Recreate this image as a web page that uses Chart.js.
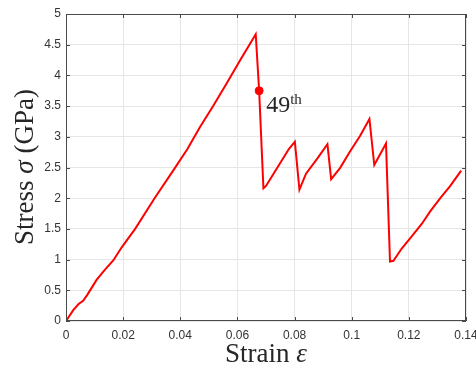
<!DOCTYPE html>
<html>
<head>
<meta charset="utf-8">
<script src="https://cdn.jsdelivr.net/npm/chart.js@4.4.0/dist/chart.umd.min.js"></script>
<style>
  html, body { margin: 0; padding: 0; background: #fff; }
</style>
</head>
<body>
<canvas id="stress-strain" width="476" height="369"></canvas>
<script>
// values
const strain = [0, 0.0026, 0.0045, 0.006, 0.0075, 0.0107, 0.0135, 0.0166, 0.0195, 0.0242,
  0.031, 0.0375, 0.0425, 0.0469, 0.0515, 0.056, 0.061, 0.0664, 0.0676, 0.0691,
  0.070, 0.074, 0.078, 0.0801, 0.0817, 0.084, 0.088, 0.0915, 0.0928, 0.0959,
  0.0994, 0.103, 0.1062, 0.1079, 0.112, 0.1134, 0.1146, 0.1175, 0.121, 0.1245,
  0.1274, 0.131, 0.1345, 0.1383]
const stress = [0, 0.18, 0.28, 0.33, 0.43, 0.67, 0.83, 0.99, 1.20, 1.50,
  2.00, 2.45, 2.80, 3.16, 3.50, 3.85, 4.25, 4.67, 3.75, 2.16,
  2.20, 2.50, 2.80, 2.92, 2.14, 2.40, 2.65, 2.88, 2.31, 2.49,
  2.76, 3.02, 3.29, 2.54, 2.89, 0.97, 0.98, 1.18, 1.38, 1.58,
  1.78, 2.00, 2.20, 2.45]

// the marked 49th point
const markStrain = [0.0676]
const markStress = [3.75]

const xTicks = [0, 0.02, 0.04, 0.06, 0.08, 0.1, 0.12, 0.14]
const yTicks = [0, 0.5, 1, 1.5, 2, 2.5, 3, 3.5, 4, 4.5, 5]

const axisColor = '#4a4a4a'
const serif = "'Liberation Serif', 'DejaVu Serif', serif"
const titleSize = '27px '

// MATLAB-like box with inward ticks, axis titles and the 49th label
const boxPlugin = {
  id: 'box',
  afterDraw(chart) {
    const { ctx, chartArea: a, scales: { x, y } } = chart
    ctx.save()
    ctx.strokeStyle = axisColor
    ctx.lineWidth = 1
    ctx.strokeRect(Math.round(a.left) + 0.5, Math.round(a.top) + 0.5,
      Math.round(a.width) - 1, Math.round(a.height) - 1)
    ctx.beginPath()
    xTicks.forEach(v => {
      const px = Math.round(x.getPixelForValue(v)) + 0.5
      ctx.moveTo(px, a.bottom); ctx.lineTo(px, a.bottom - 4)
      ctx.moveTo(px, a.top); ctx.lineTo(px, a.top + 4)
    })
    yTicks.forEach(v => {
      const py = Math.round(y.getPixelForValue(v)) + 0.5
      ctx.moveTo(a.left, py); ctx.lineTo(a.left + 4, py)
      ctx.moveTo(a.right, py); ctx.lineTo(a.right - 4, py)
    })
    ctx.stroke()

    ctx.fillStyle = '#262626'
    ctx.textBaseline = 'alphabetic'

    // x title
    const xa = 'Strain ', xb = 'ε'
    ctx.font = titleSize + serif
    const wa = ctx.measureText(xa).width
    ctx.font = 'italic ' + titleSize + serif
    const wb = ctx.measureText(xb).width
    let sx = (a.left + a.right) / 2 - (wa + wb) / 2
    ctx.font = titleSize + serif
    ctx.fillText(xa, sx, 362)
    ctx.font = 'italic ' + titleSize + serif
    ctx.fillText(xb, sx + wa, 362)

    // y title
    const parts = [['Stress ', ''], ['σ', 'italic '], [' (GPa)', '']]
    let total = 0
    parts.forEach(p => { ctx.font = p[1] + titleSize + serif; total += ctx.measureText(p[0]).width })
    ctx.save()
    ctx.translate(33, 167)
    ctx.rotate(-Math.PI / 2)
    let cx = -total / 2
    parts.forEach(p => {
      ctx.font = p[1] + titleSize + serif
      ctx.fillText(p[0], cx, 0)
      cx += ctx.measureText(p[0]).width
    })
    ctx.restore()

    // 49th label
    const mx = x.getPixelForValue(markStrain[0]) + 7
    const my = y.getPixelForValue(markStress[0]) + 21
    ctx.font = '24px ' + serif
    ctx.fillText('49', mx, my)
    const w49 = ctx.measureText('49').width
    ctx.font = '15px ' + serif
    ctx.fillText('th', mx + w49, my - 8)
    ctx.restore()
  }
}

const stressStrainConfig = {
  type: 'scatter',
  data: {
    datasets: [
      {
        data: strain.map((s, i) => ({ x: s, y: stress[i] })),
        showLine: true,
        borderColor: '#ff0000',
        borderWidth: 2,
        pointRadius: 0,
        tension: 0,
      },
      {
        data: markStrain.map((s, i) => ({ x: s, y: markStress[i] })),
        pointRadius: 4,
        pointBackgroundColor: '#ff0000',
        pointBorderColor: '#ff0000',
      },
    ],
  },
  options: {
    responsive: false,
    animation: false,
    devicePixelRatio: 1,
    layout: { padding: { top: 14, right: 10, left: 0, bottom: 0 } },
    plugins: { legend: { display: false }, tooltip: { enabled: false } },
    scales: {
      x: {
        type: 'linear',
        min: 0,
        max: 0.14,
        afterBuildTicks: s => { s.ticks = xTicks.map(v => ({ value: v })) },
        afterFit: s => { s.height = 48; s.paddingLeft = 0; s.paddingRight = 0 },
        grid: { color: '#e6e6e6', drawTicks: false },
        border: { display: false },
        ticks: {
          padding: 7,
          maxRotation: 0,
          autoSkip: false,
          color: '#333',
          font: { family: "'Liberation Sans', Arial, sans-serif", size: 12 },
          callback: v => String(v),
        },
      },
      y: {
        min: 0,
        max: 5,
        afterBuildTicks: s => { s.ticks = yTicks.map(v => ({ value: v })) },
        afterFit: s => { s.width = 66; s.paddingTop = 0; s.paddingBottom = 0 },
        grid: { color: '#e6e6e6', drawTicks: false },
        border: { display: false },
        ticks: {
          padding: 5,
          autoSkip: false,
          color: '#333',
          font: { family: "'Liberation Sans', Arial, sans-serif", size: 12 },
          callback: v => String(v),
        },
      },
    },
  },
  plugins: [boxPlugin],
}

const stressStrain = document.getElementById('stress-strain')
window.myChart = new Chart(stressStrain, stressStrainConfig)
</script>
</body>
</html>
